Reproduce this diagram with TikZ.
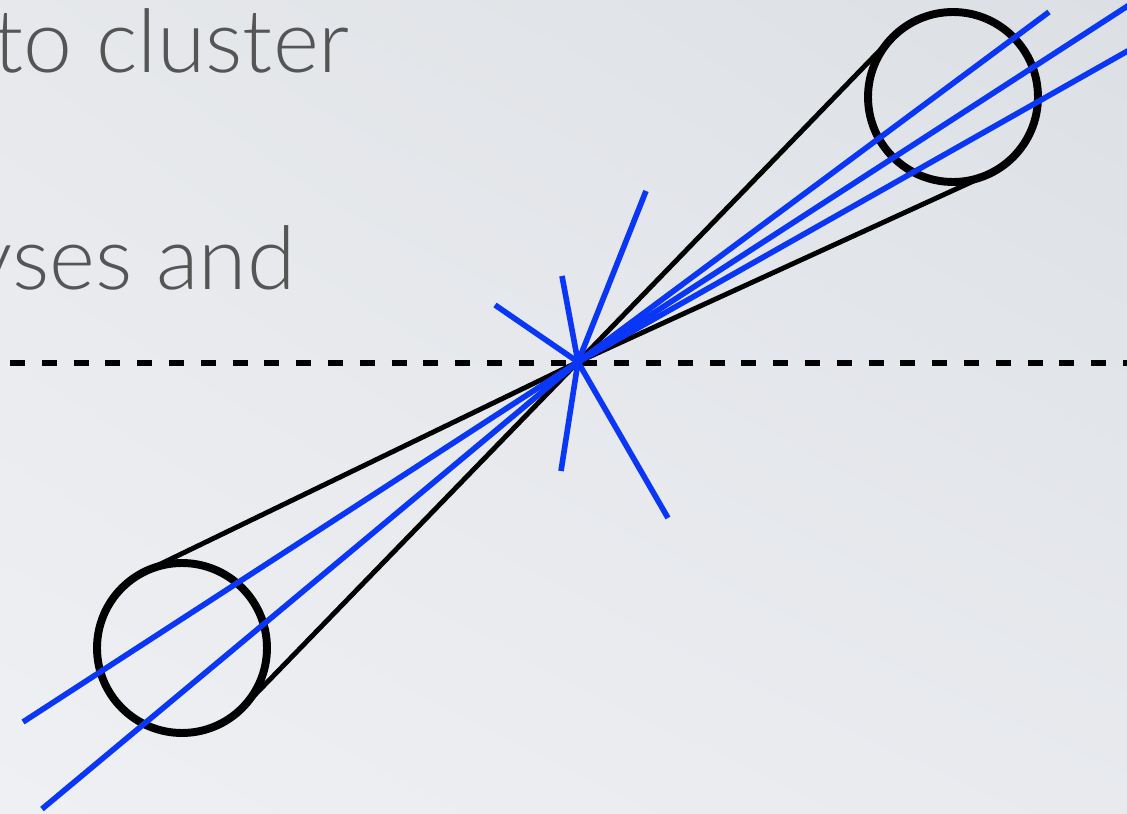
\documentclass[tikz,border=0pt]{standalone}
\usepackage{fontspec}
\setmainfont{Lato}[UprightFont=* Light]
\usepackage{xcolor}
\usetikzlibrary{calc,shadings}
\definecolor{trkblue}{HTML}{0A37F7}
\definecolor{slate}{HTML}{555555}
\definecolor{bgul}{HTML}{E6E8EB}
\definecolor{bgur}{HTML}{DCE0E5}
\definecolor{bgll}{HTML}{EFF0F4}
\definecolor{bglr}{HTML}{E8EAEE}

\begin{document}
\begin{tikzpicture}[x=0.02cm,y=-0.02cm,
  txt/.style={font=\fontsize{50}{58}\selectfont,text=slate,inner sep=0pt,anchor=base east},
  jetc/.style={circle,draw=black,line width=4.5pt,minimum size=3.4cm,inner sep=0pt,outer sep=0pt},
  cn/.style={line width=2.8pt,black},
  trk/.style={line width=3.2pt,trkblue},
  axis/.style={line width=3pt,black,dash pattern=on 8.5pt off 9.6pt}]
\useasboundingbox (0,0) rectangle (1127,814);
\clip (0,0) rectangle (1127,814);
\shade[upper left=bgul,upper right=bgur,lower left=bgll,lower right=bglr] (0,0) rectangle (1127,814);
% text cut by the page edge
\node[txt] (l1) at (350,73) {to cluster};
\node[txt] (l2) at (296,290) {yses and};
% beam axis
\coordinate (axL) at (10,363);
\coordinate (axR) at (1140,363);
\draw[axis] (axL) -- (axR);
% vertex and jet cones
\coordinate (vtx) at (578,362);
\node[jetc] (jetA) at (953,97) {};
\node[jetc] (jetB) at (182,648) {};
\draw[cn] (vtx) -- (tangent cs:node=jetA,point={(vtx)},solution=1);
\draw[cn] (vtx) -- (tangent cs:node=jetA,point={(vtx)},solution=2);
\draw[cn] (vtx) -- (tangent cs:node=jetB,point={(vtx)},solution=1);
\draw[cn] (vtx) -- (tangent cs:node=jetB,point={(vtx)},solution=2);
% tracks
\foreach \p in {(646,191),(562,276),(495,305),(561,471),(668,518),
  (1049,12),(1140,-2),(1140,44),(23,722),(42,809)}
  \draw[trk] (vtx) -- \p;
\end{tikzpicture}
\end{document}
